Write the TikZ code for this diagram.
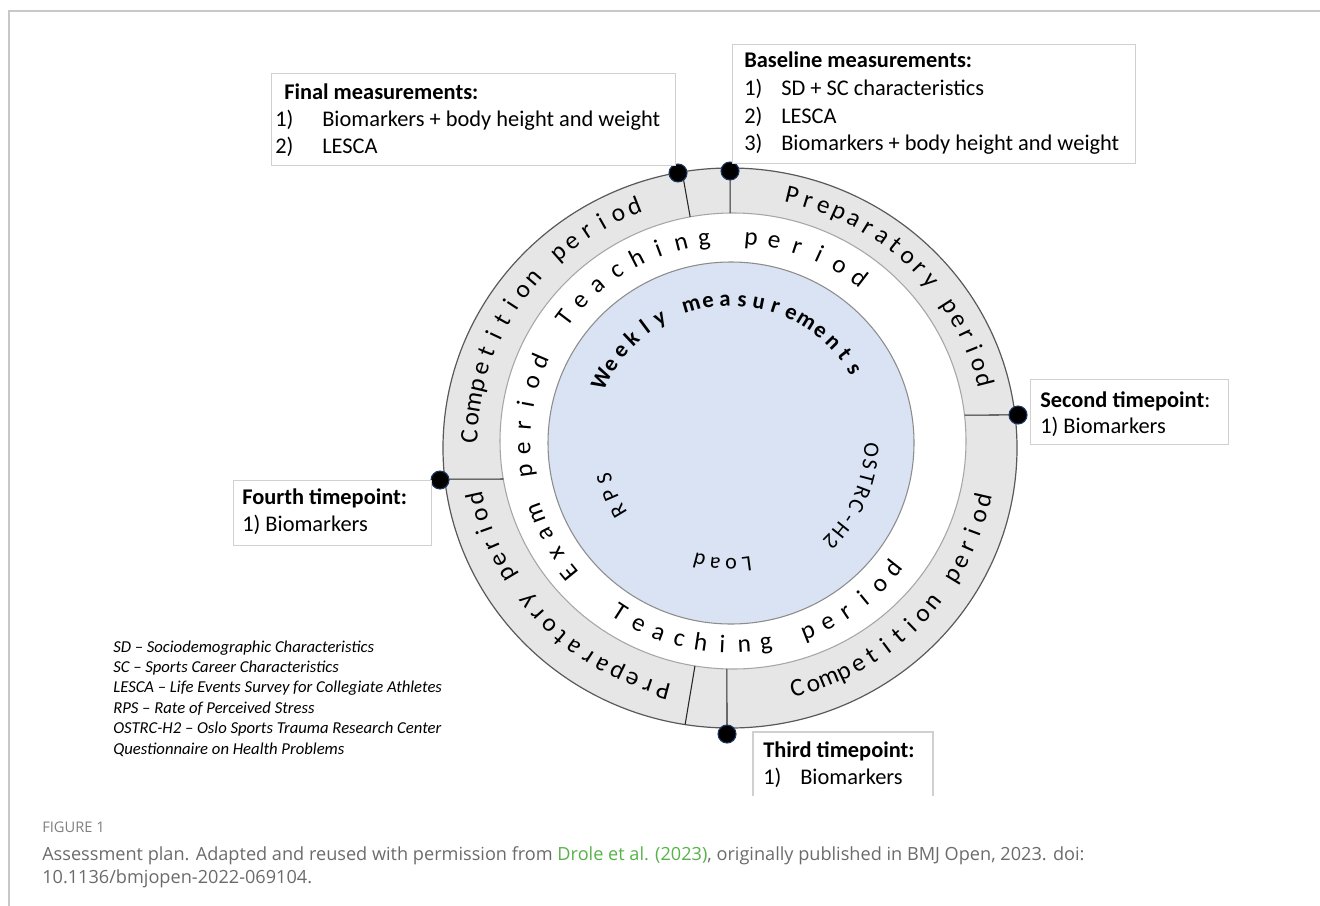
\documentclass[tikz,border=0pt]{standalone}
\usepackage{fontspec}
\setmainfont{Carlito}
\newfontfamily\capfont{Open Sans}
\definecolor{ringgray}{HTML}{E7E6E6}
\definecolor{ringedge}{HTML}{595959}
\definecolor{inneredge}{HTML}{A6A6A6}
\definecolor{bluefill}{HTML}{DAE3F3}
\definecolor{blueedge}{HTML}{8C8C8C}
\definecolor{boxedge}{HTML}{D0D0D0}
\definecolor{frameline}{HTML}{C8C8C8}
\definecolor{dotedge}{HTML}{1F3864}
\definecolor{capgray}{HTML}{6B6B6B}
\definecolor{figgray}{HTML}{808080}
\definecolor{capgreen}{HTML}{58B24A}

% #1 cx, #2 cy, #3 rx, #4 ry, #5 start angle, #6 step, #7 style, #8 letters, #9 name prefix
\newcommand\RingCW[9]{%
  \foreach \ch [count=\i from 0] in {#8} {%
    \pgfmathsetmacro\th{#5-\i*(#6)}%
    \node[#7, rotate=\th-90, name=#9\i] at ({#1+#3*cos(\th)},{#2-#4*sin(\th)}) {\ch};
  }%
}
\newcommand\RingCCW[9]{%
  \foreach \ch [count=\i from 0] in {#8} {%
    \pgfmathsetmacro\th{#5+\i*(#6)}%
    \node[#7, rotate=\th+90, name=#9\i] at ({#1+#3*cos(\th)},{#2-#4*sin(\th)}) {\ch};
  }%
}

\tikzset{
  ringtxt/.style={inner sep=0pt, text height=12.5pt, text depth=3pt, font=\fontsize{19}{19}\selectfont},
  weektxt/.style={inner sep=0pt, text height=11.5pt, text depth=2.5pt, font=\bfseries\fontsize{17}{17}\selectfont},
  innertxt/.style={inner sep=0pt, text height=11pt, text depth=2.5pt, font=\fontsize{16.5}{16.5}\selectfont},
  boxrect/.style={draw=boxedge, line width=0.8pt, fill=white, inner sep=0pt, anchor=north west},
  boxtxt/.style={anchor=base west, inner sep=0pt, font=\fontsize{16.8}{20}\selectfont},
  legtxt/.style={anchor=base west, inner sep=0pt, font=\itshape\fontsize{12.5}{14}\selectfont},
  figtxt/.style={anchor=base west, inner sep=0pt, text=figgray, font=\capfont\fontsize{11}{13}\selectfont},
  captxt/.style={anchor=base west, inner sep=0pt, text=capgray, font=\capfont\fontsize{13.6}{16}\selectfont},
  tdot/.style={circle, fill=black, draw=dotedge, line width=0.8pt, minimum size=13.5pt, inner sep=0pt},
  divider/.style={draw=black!85, line width=0.8pt},
  frameln/.style={draw=frameline, line width=1pt},
}

\begin{document}
\begin{tikzpicture}[x=0.75pt,y=-0.75pt]
\useasboundingbox (0,0) rectangle (1320,906);

% frame
\coordinate (fb) at (9,906);
\coordinate (fc) at (9,11);
\coordinate (fr) at (1320,11);
\draw[frameln] (fb) -- (fc) -- (fr);

% rings
\path[draw=ringedge, fill=ringgray, line width=0.9pt] (730,448) ellipse [x radius=215.25pt, y radius=210pt];
\path[draw=inneredge, fill=white, line width=0.8pt] (733,441) ellipse [x radius=174.75pt, y radius=171pt];
\path[draw=blueedge, fill=bluefill, line width=0.8pt] (731,443) ellipse [x radius=137.25pt, y radius=135.75pt];

% divider end points
\foreach \nm/\ao/\ai in {A/99.6/100.6, B/90/90.7, C/6.8/6.5, D/186.4/189.6, E/269.4/268.5, F/261/260.6} {
  \coordinate (o\nm) at ({730+287*cos(\ao)},{448-280*sin(\ao)});
  \coordinate (i\nm) at ({733+233*cos(\ai)},{441-228*sin(\ai)});
}
\foreach \nm in {A,B,C,D,E,F} {\draw[divider] (o\nm) -- (i\nm);}

% ring texts (gray ring)
\RingCW{731}{444}{260}{254}{76.5}{3.65}{ringtxt}{P,r,e,p,a,r,a,t,o,r,y,{},p,e,r,i,o,d}{prepA}
\RingCW{731}{444}{260}{254}{178.4}{3.92}{ringtxt}{C,o,m,p,e,t,i,t,i,o,n,{},p,e,r,i,o,d}{compA}
\RingCW{731}{444}{260}{254}{255}{3.68}{ringtxt}{P,r,e,p,a,r,a,t,o,r,y,{},p,e,r,i,o,d}{prepB}
\RingCCW{731}{444}{260}{254}{284.8}{3.66}{ringtxt}{C,o,m,p,e,t,i,t,i,o,n,{},p,e,r,i,o,d}{compB}

% ring texts (white ring)
\RingCW{732}{442}{208}{204.5}{142.9}{6.46}{ringtxt}{T,e,a,c,h,i,n,g,{},p,e,r,i,o,d}{teachA}
\RingCW{732}{442}{208}{204.5}{219.2}{6.24}{ringtxt}{E,x,a,m,{},p,e,r,i,o,d}{exam}
\RingCCW{732}{442}{208}{204.5}{237.2}{6.03}{ringtxt}{T,e,a,c,h,i,n,g,{},p,e,r,i,o,d}{teachB}

% inner texts
\RingCW{731}{443}{143}{143}{153.9}{6.83}{weektxt}{W,e,e,k,l,y,{},m,e,a,s,u,r,e,m,e,n,t,s}{week}
\RingCW{731}{443}{139}{139}{357.2}{5.97}{innertxt}{O,S,T,R,C,-,H,2}{ostrc}
\RingCW{731}{443}{121}{121}{277.5}{7.5}{innertxt}{L,o,a,d}{load}
\RingCW{731}{443}{130}{130}{211}{7.7}{innertxt}{R,P,S}{rps}

% timepoint dots
\node[tdot] (dA) at (678,173) {};
\node[tdot] (dB) at (730,171) {};
\node[tdot] (dC) at (1018,415) {};
\node[tdot] (dD) at (440,480) {};
\node[tdot] (dE) at (727,734) {};

% Baseline box
\node[boxrect, minimum width=302.25pt, minimum height=89.25pt] (basebox) at (732,44) {};
\node[boxtxt] (b0) at (744,68) {\bfseries Baseline measurements:};
\node[boxtxt] (b1n) at (744,95.5) {1)};
\node[boxtxt] (b1) at (781,95.5) {SD + SC characteristics};
\node[boxtxt] (b2n) at (744,123) {2)};
\node[boxtxt] (b2) at (781,123) {LESCA};
\node[boxtxt] (b3n) at (744,150) {3)};
\node[boxtxt] (b3) at (781,150) {Biomarkers + body height and weight};

% Final box
\node[boxrect, minimum width=303pt, minimum height=69pt] (finalbox) at (271,73) {};
\node[boxtxt] (f0) at (284,99) {\bfseries Final measurements:};
\node[boxtxt] (f1n) at (275,126) {1)};
\node[boxtxt] (f1) at (322,126) {Biomarkers + body height and weight};
\node[boxtxt] (f2n) at (275,153) {2)};
\node[boxtxt] (f2) at (322,153) {LESCA};

% Second timepoint box
\node[boxrect, minimum width=148.5pt, minimum height=48.75pt] (secbox) at (1030,379) {};
\node[boxtxt] (s0) at (1040,407) {\textbf{Second timepoint}:};
\node[boxtxt] (s1) at (1040,433) {1) Biomarkers};

% Fourth timepoint box
\node[boxrect, minimum width=148.5pt, minimum height=48.75pt] (fourbox) at (233,480) {};
\node[boxtxt] (q0) at (242,504) {\bfseries Fourth timepoint:};
\node[boxtxt] (q1) at (242,531) {1) Biomarkers};

% Third timepoint box (open at bottom)
\coordinate (t1) at (753,796);
\coordinate (t2) at (753,732);
\coordinate (t3) at (933,732);
\coordinate (t4) at (933,796);
\fill[white] (t1) -- (t2) -- (t3) -- (t4) -- cycle;
\draw[draw=boxedge, line width=0.8pt] (t1) -- (t2) -- (t3) -- (t4);
\node[boxtxt] (r0) at (763,757) {\bfseries Third timepoint:};
\node[boxtxt] (r1n) at (763,784) {1)};
\node[boxtxt] (r1) at (800,784) {Biomarkers};

% legend
\node[legtxt] (l1) at (113,652) {SD – Sociodemographic Characteristics};
\node[legtxt] (l2) at (113,672.4) {SC – Sports Career Characteristics};
\node[legtxt] (l3) at (113,692.8) {LESCA – Life Events Survey for Collegiate Athletes};
\node[legtxt] (l4) at (113,713.2) {RPS – Rate of Perceived Stress};
\node[legtxt] (l5) at (113,733.6) {OSTRC-H2 – Oslo Sports Trauma Research Center};
\node[legtxt] (l6) at (113,754) {Questionnaire on Health Problems};

% caption
\node[figtxt] (figlab) at (42,832) {FIGURE 1};
\node[captxt] (cap1) at (42,860) {Assessment plan. Adapted and reused with permission from \textcolor{capgreen}{Drole et al. (2023)}, originally published in BMJ Open, 2023. doi:};
\node[captxt] (cap2) at (42,883) {10.1136/bmjopen-2022-069104.};
\end{tikzpicture}
\end{document}
